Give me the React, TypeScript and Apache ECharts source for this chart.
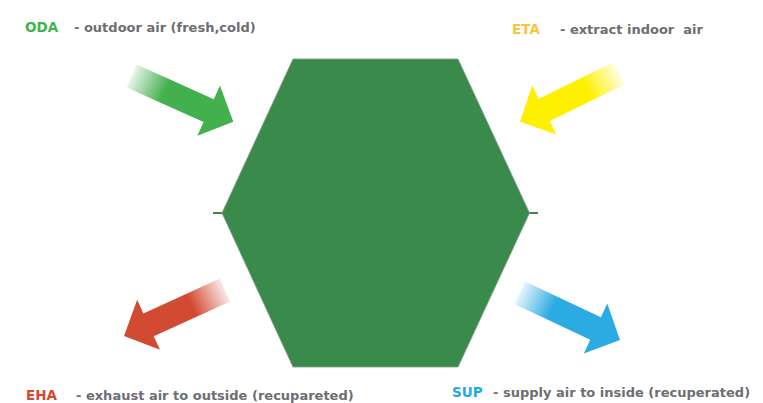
import React, { useEffect, useRef } from "react";
import * as echarts from "echarts";

// Labels
const codes = ["ODA", "ETA", "EHA", "SUP"];
const descriptions = [
  "- outdoor air (fresh,cold)",
  "- extract indoor  air",
  "- exhaust air to outside (recupareted)",
  "- supply air to inside (recuperated)",
];
const codeColors = ["#3fb34f", "#fcc23c", "#d6482f", "#22a9e3"];
const arrowColors = ["#42b04c", "#fff000", "#d34a33", "#2aabe2"];

// Layout (pixels)
const codePos = [
  [25, 27],
  [512, 29],
  [26, 395],
  [452, 392],
];
const descX = [74, 560, 76, 493];
const arrows = [
  { tail: [131.7, 76], tip: [233.3, 121.7] },
  { tail: [619.2, 73.3], tip: [520, 121.7] },
  { tail: [225, 290], tip: [124, 336] },
  { tail: [519.7, 292.8], tip: [620, 340] },
];
const SHAFT_W = 25;
const HEAD_W = 55;
const HEAD_L = 27;

const hexagon = [
  [293, 59],
  [458, 59],
  [529.5, 213],
  [458, 367],
  [293, 367],
  [222, 213],
];

function hexToRgb(h: string) {
  const n = parseInt(h.slice(1), 16);
  return [(n >> 16) & 255, (n >> 8) & 255, n & 255];
}

function arrowElement(a: { tail: number[]; tip: number[] }, color: string) {
  const [tx, ty] = a.tail;
  const [px, py] = a.tip;
  const dx = px - tx;
  const dy = py - ty;
  const L = Math.sqrt(dx * dx + dy * dy);
  const ux = dx / L;
  const uy = dy / L;
  const nx = -uy;
  const ny = ux;
  const kx = px - ux * HEAD_L;
  const ky = py - uy * HEAD_L;
  const s = SHAFT_W / 2;
  const h = HEAD_W / 2;
  const pts = [
    [tx + nx * s, ty + ny * s],
    [kx + nx * s, ky + ny * s],
    [kx + nx * h, ky + ny * h],
    [px, py],
    [kx - nx * h, ky - ny * h],
    [kx - nx * s, ky - ny * s],
    [tx - nx * s, ty - ny * s],
  ];
  const [r, g, b] = hexToRgb(color);
  return {
    type: "polygon",
    shape: { points: pts },
    style: {
      fill: {
        type: "linear",
        x: tx,
        y: ty,
        x2: px,
        y2: py,
        global: true,
        colorStops: [
          { offset: 0, color: `rgba(${r},${g},${b},0.12)` },
          { offset: 0.33, color: `rgba(${r},${g},${b},1)` },
          { offset: 1, color: `rgba(${r},${g},${b},1)` },
        ],
      },
    },
  };
}

export default function App() {
  const ref = useRef<HTMLDivElement>(null);
  useEffect(() => {
    if (!ref.current) return;
    const chart = echarts.init(ref.current, undefined, { renderer: "svg" });
    const font = "'DejaVu Sans', sans-serif";
    const elements: any[] = [];
    elements.push({
      type: "line",
      shape: { x1: 213, y1: 213, x2: 538, y2: 213 },
      style: { stroke: "#4d7a58", lineWidth: 2 },
    });
    elements.push({
      type: "polygon",
      shape: { points: hexagon },
      style: { fill: "#3a8a4b", stroke: "#7f9c86", lineWidth: 0.8 },
    });
    arrows.forEach((a, i) => elements.push(arrowElement(a, arrowColors[i])));
    codes.forEach((c, i) => {
      elements.push({
        type: "text",
        x: codePos[i][0],
        y: codePos[i][1],
        style: {
          text: c,
          fill: codeColors[i],
          fontFamily: font,
          fontWeight: 700,
          fontSize: 13.5,
          verticalAlign: "middle",
          align: "left",
        },
      });
      elements.push({
        type: "text",
        x: descX[i],
        y: codePos[i][1],
        style: {
          text: descriptions[i],
          fill: "#6d6e71",
          fontFamily: font,
          fontWeight: 700,
          fontSize: 13,
          verticalAlign: "middle",
          align: "left",
        },
      });
    });
    chart.setOption({
      animation: false,
      backgroundColor: "#ffffff",
      graphic: { elements },
    });
    return () => chart.dispose();
  }, []);
  return (
    <div
      ref={ref}
      style={{ position: "absolute", left: 0, top: 0, width: 763, height: 403 }}
    />
  );
}
